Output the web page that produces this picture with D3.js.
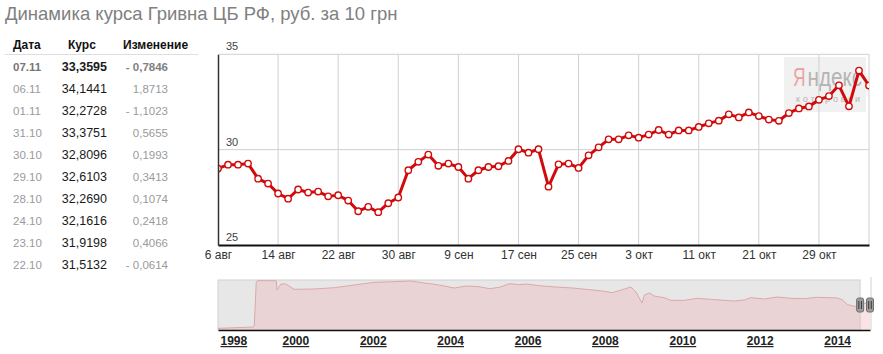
<!DOCTYPE html>
<html><head><meta charset="utf-8">
<script src="https://cdn.jsdelivr.net/npm/d3@7"></script>
<style>body{margin:0;background:#fff;font-family:Arial,"Liberation Sans",sans-serif;} svg{display:block}</style>
</head><body><svg id="c" width="883" height="354"></svg>
<script>
// ---------- DATA ----------
const chartTitle = "Динамика курса Гривна ЦБ РФ, руб. за 10 грн";
const tableHeaders = ["Дата", "Курс", "Изменение"];
const tableDates = ["07.11","06.11","01.11","31.10","30.10","29.10","28.10","24.10","23.10","22.10"];
const tableRates = ["33,3595","34,1441","32,2728","33,3751","32,8096","32,6103","32,2690","32,1616","31,9198","31,5132"];
const tableChanges = ["- 0,7846","1,8713","- 1,1023","0,5655","0,1993","0,3413","0,1074","0,2418","0,4066","- 0,0614"];

const rateValues = [
  29.01, 29.21, 29.21, 29.27, 28.48, 28.22, 27.70, 27.43, 27.91, 27.75,
  27.80, 27.55, 27.61, 27.33, 26.77, 27.00, 26.72, 27.19, 27.49, 28.92,
  29.36, 29.74, 29.15, 29.27, 29.09, 28.48, 28.92, 29.09, 29.13, 29.41,
  30.02, 29.84, 30.02, 28.06, 29.23, 29.27, 29.04, 29.70, 30.12, 30.54,
  30.54, 30.75, 30.63, 30.79, 31.03, 30.79, 31.01, 31.01, 31.19, 31.38,
  31.52, 31.85, 31.69, 31.95, 31.76, 31.5746, 31.5132, 31.9198, 32.1616, 32.2690,
  32.6103, 32.8096, 33.3751, 32.2728, 34.1441, 33.3595
];
const xTickIndex = [0, 6, 12, 18, 24, 30, 36, 42, 48, 54, 60];
const xTickLabels = ["6 авг","14 авг","22 авг","30 авг","9 сен","17 сен","25 сен","3 окт","11 окт","21 окт","29 окт"];
const yTickValues = [25, 30, 35];

const navDates = ["1998-01-01","1998-11-24","1998-12-09","1998-12-28","1999-01-08","1999-04-12","1999-07-05","1999-07-12",
  "1999-08-18","1999-10-04","1999-12-20","2000-06-28","2001-01-05","2001-07-09","2002-01-15","2002-07-24","2002-12-28",
  "2003-05-01","2003-07-16","2003-09-20","2004-02-10","2004-05-30","2004-10-01","2005-01-05","2005-04-09","2005-07-13",
  "2005-10-16","2005-12-17","2006-04-20","2006-09-24","2007-02-28","2007-08-04","2007-12-06","2008-03-11","2008-06-14",
  "2008-09-02","2008-10-20","2008-12-16","2009-01-08","2009-02-24","2009-04-09","2009-07-13","2009-09-16","2010-01-19",
  "2010-05-22","2010-09-27","2011-01-30","2011-05-05","2011-08-08","2011-10-09","2012-02-14","2012-06-13","2012-10-23",
  "2013-02-24","2013-06-28","2014-01-05","2014-02-21","2014-04-10","2014-06-14","2014-08-06","2014-09-20","2014-11-07"];
const navValues = [2.0, 3.5, 4.5, 57.2, 59.2, 59.2, 59.0, 48.0,
  55.2, 55.2, 48.8, 49.2, 50.8, 54.0, 57.2, 58.0, 58.8,
  56.4, 55.2, 54.0, 50.4, 52.8, 52.0, 49.6, 51.2, 55.6,
  54.4, 55.2, 53.2, 51.6, 50.4, 48.4, 46.8, 44.8, 48.4,
  51.6, 45.6, 32.4, 42.0, 44.4, 40.8, 38.8, 35.6, 35.6,
  38.0, 36.8, 35.6, 34.8, 36.0, 38.8, 37.2, 39.6, 38.0,
  37.6, 39.2, 38.4, 36.0, 30.4, 28.4, 29.2, 32.4, 31.0];
const navYearTicks = [1998, 2000, 2002, 2004, 2006, 2008, 2010, 2012, 2014];
const navSelection = ["2014-08-06", "2014-11-07"];

// ---------- DRAW ----------
const svg = d3.select("#c");
const parse = d3.timeParse("%Y-%m-%d");

// Title
svg.append("text").attr("x", 5).attr("y", 19.5)
  .attr("font-size", "18.5px").attr("fill", "#808080").text(chartTitle);

// Table
const colX = [13, 68, 123];
svg.selectAll("text.hdr").data(tableHeaders).join("text").attr("class", "hdr")
  .attr("x", (d, i) => colX[i]).attr("y", 48.5)
  .attr("font-size", "12px").attr("font-weight", "bold").attr("fill", "#111").text(d => d);
svg.append("line").attr("x1", 5).attr("x2", 198).attr("y1", 54.5).attr("y2", 54.5)
  .attr("stroke", "#dedede");
const rowY = i => 70.5 + i * 22.1;
svg.selectAll("text.td").data(tableDates).join("text").attr("class", "td")
  .attr("x", 13).attr("y", (d, i) => rowY(i)).attr("font-size", "11.5px")
  .attr("font-weight", (d, i) => i === 0 ? "bold" : "normal")
  .attr("fill", (d, i) => i === 0 ? "#777" : "#9a9a9a").text(d => d);
svg.selectAll("text.tr").data(tableRates).join("text").attr("class", "tr")
  .attr("x", 107).attr("y", (d, i) => rowY(i)).attr("text-anchor", "end").attr("font-size", "12.5px")
  .attr("font-weight", (d, i) => i === 0 ? "bold" : "normal")
  .attr("fill", "#1a1a1a").text(d => d);
svg.selectAll("text.tc").data(tableChanges).join("text").attr("class", "tc")
  .attr("x", 168).attr("y", (d, i) => rowY(i)).attr("text-anchor", "end").attr("font-size", "11.5px")
  .attr("font-weight", (d, i) => i === 0 ? "bold" : "normal")
  .attr("fill", (d, i) => i === 0 ? "#808080" : "#9a9a9a").text(d => d);

// Main chart
const L = 218, R = 869, T = 54.3, B = 245;
const x = d3.scaleLinear().domain([0, rateValues.length - 1]).range([L, R]);
const y = d3.scaleLinear().domain([25, 35]).range([B, T]);

// watermark (horizontally condensed via transforms)
const wm = svg.append("g");
wm.append("rect").attr("x", 784).attr("y", 57).attr("width", 82).attr("height", 55)
  .attr("fill", "#ececec").attr("opacity", 0.75);
function condensed(txt, x0, y0, size, targetW, color) {
  const t = wm.append("text").attr("font-size", size + "px").attr("fill", color).text(txt);
  const w = t.node().getComputedTextLength();
  const sx = targetW / w;
  t.attr("transform", `translate(${x0},${y0}) scale(${sx},1)`);
}
condensed("Я", 793, 86, 26, 12.5, "#e9a3a3");
condensed("ндекс", 807.5, 86, 26, 54.5, "#b4b4b4");
wm.append("text").attr("x", 796).attr("y", 102).attr("font-size", "9px").attr("fill", "#b4b4b4")
  .attr("textLength", 64).attr("lengthAdjust", "spacing").text("котировки");

// grid
svg.append("g").selectAll("line").data(yTickValues.filter(v => v > 25)).join("line")
  .attr("x1", L).attr("x2", R).attr("y1", d => y(d)).attr("y2", d => y(d))
  .attr("stroke", "#d0d0d0");
svg.append("g").selectAll("line").data(xTickIndex.filter(v => v > 0).concat([rateValues.length - 1])).join("line")
  .attr("x1", d => x(d)).attr("x2", d => x(d)).attr("y1", T).attr("y2", B)
  .attr("stroke", "#d0d0d0");

// series
svg.append("clipPath").attr("id", "clip").append("rect")
  .attr("x", L).attr("y", 0).attr("width", R - L).attr("height", B);
const sg = svg.append("g").attr("clip-path", "url(#clip)");
sg.append("path").datum(rateValues)
  .attr("d", d3.line().x((d, i) => x(i)).y(d => y(d)))
  .attr("fill", "none").attr("stroke", "#d10a0a").attr("stroke-width", 3)
  .attr("stroke-linejoin", "round");
sg.selectAll("circle").data(rateValues).join("circle")
  .attr("cx", (d, i) => x(i)).attr("cy", d => y(d)).attr("r", 3.2)
  .attr("fill", "#fff").attr("stroke", "#d10a0a").attr("stroke-width", 1.4);

// axes
const xAxis = svg.append("g").attr("transform", `translate(0,${B})`)
  .call(d3.axisBottom(x).tickValues(xTickIndex).tickFormat((d, i) => xTickLabels[i])
    .tickSize(0).tickSizeOuter(0).tickPadding(5));
xAxis.select(".domain").attr("stroke", "#111").attr("stroke-width", 2);
xAxis.selectAll("text").attr("font-size", "12px").attr("font-family", "Arial, 'Liberation Sans', sans-serif").attr("fill", "#333");

const yAxis = svg.append("g").attr("transform", `translate(${L},0)`)
  .call(d3.axisRight(y).tickValues(yTickValues).tickSize(0).tickSizeOuter(0).tickPadding(8));
yAxis.select(".domain").attr("stroke", "#333").attr("stroke-width", 1.5);
yAxis.selectAll("text").attr("font-size", "11px").attr("font-family", "Arial, 'Liberation Sans', sans-serif")
  .attr("fill", "#444").attr("dy", "-0.4em");

// Navigator
const NL = 218, NR = 870, NT = 280, NB = 330;
const nx = d3.scaleTime().domain([parse("1998-01-01"), parse("2014-11-07")]).range([NL, NR]);
const ny = d3.scaleLinear().domain([0, 60]).range([NB, NT]);
const navData = navDates.map((d, i) => ({ date: parse(d), v: navValues[i] }));
const s0 = nx(parse(navSelection[0])), s1 = nx(parse(navSelection[1]));

svg.append("rect").attr("x", NL).attr("y", NT).attr("width", s0 - NL).attr("height", NB - NT)
  .attr("fill", "#e7e7e7").attr("stroke", "#d2d2d2");
svg.append("line").attr("x1", s1 + 1).attr("x2", s1 + 1).attr("y1", NT - 3).attr("y2", NB)
  .attr("stroke", "#d2d2d2");
svg.append("path").datum(navData)
  .attr("d", d3.area().x(d => nx(d.date)).y0(NB).y1(d => ny(d.v)))
  .attr("fill", "rgba(240,175,180,0.35)");
svg.append("path").datum(navData)
  .attr("d", d3.line().x(d => nx(d.date)).y(d => ny(d.v)))
  .attr("fill", "none").attr("stroke", "#dca8a8").attr("stroke-width", 1);

const navAxis = svg.append("g").attr("transform", `translate(0,${NB})`)
  .call(d3.axisBottom(nx).tickValues(navYearTicks.map(yv => new Date(yv, 0, 1)))
    .tickFormat(d3.timeFormat("%Y")).tickSize(0).tickSizeOuter(0).tickPadding(6.5));
navAxis.select(".domain").attr("stroke", "#111").attr("stroke-width", 1.5);
navAxis.selectAll("text").attr("font-size", "12px").attr("font-weight", "bold")
  .attr("font-family", "Arial, 'Liberation Sans', sans-serif")
  .attr("fill", "#222").attr("text-decoration", "underline")
  .each(function (d) {
    const w = this.getComputedTextLength();
    const cx = nx(d);
    if (cx - w / 2 < NL + 2) d3.select(this).attr("x", NL + 2 + w / 2 - cx);
  });

// handles
[s0, s1].forEach(hx => {
  const g = svg.append("g");
  g.append("rect").attr("x", hx - 3.5).attr("y", 298).attr("width", 7).attr("height", 14)
    .attr("rx", 2).attr("fill", "#9d9d9d").attr("stroke", "#6e6e6e");
  [-1.3, 1.3].forEach(o => g.append("line").attr("x1", hx + o).attr("x2", hx + o)
    .attr("y1", 301).attr("y2", 309).attr("stroke", "#3a3a3a").attr("stroke-width", 1));
});
</script></body></html>
